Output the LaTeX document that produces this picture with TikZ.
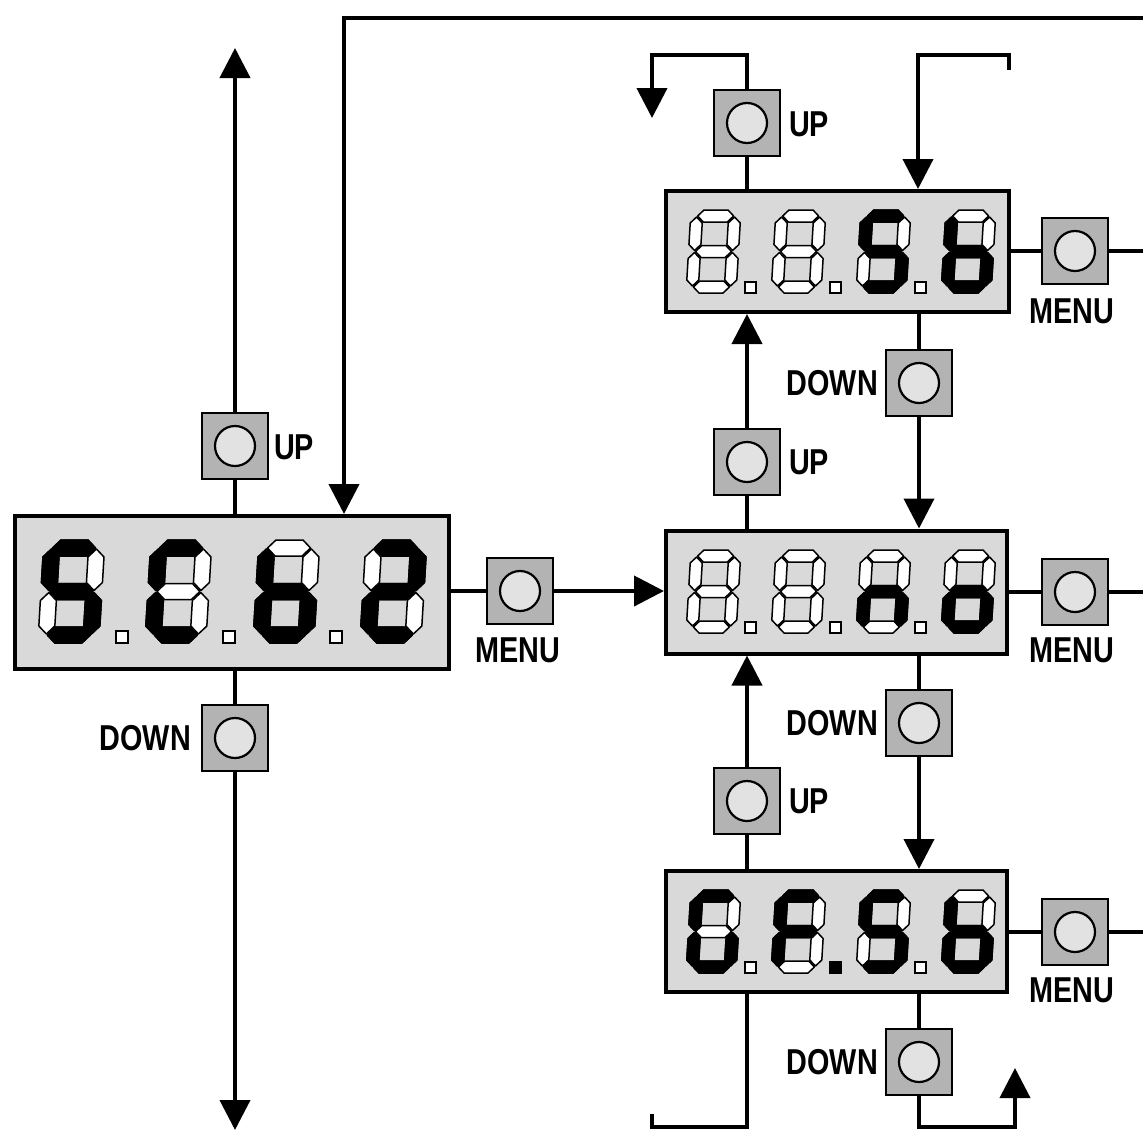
\documentclass[tikz,border=0pt]{standalone}
\usepackage{fontspec}
\newfontfamily\labfont{Liberation Sans}
\usetikzlibrary{arrows.meta,calc}
\definecolor{dispgray}{HTML}{D9D9D9}
\definecolor{btngray}{HTML}{B3B3B3}
\definecolor{circgray}{HTML}{E2E2E2}
\tikzset{
 conn/.style={line width=4pt},
 arr/.style={conn, -{Triangle[length=30pt,width=30pt]}},
 disp/.style={draw, fill=dispgray, line width=4pt, inner sep=0},
 btn/.style={draw, fill=btngray, line width=2.5pt, minimum width=66pt, minimum height=66pt, inner sep=0,
   path picture={\draw[fill=circgray, line width=2.2pt] (path picture bounding box.center) circle (20pt);}},
 lbl/.style={font=\labfont\bfseries\fontsize{36}{36}\selectfont, xscale=0.8, inner sep=0},
 segoff/.style={fill=white, draw=black, line width=1.5pt, line join=round},
 segon/.style={fill=black, draw=black, line width=1.5pt, line join=round},
 dpoff/.style={fill=white, draw=black, line width=1.2pt},
 dpon/.style={fill=black, draw=black, line width=1.2pt},
}
\newcommand\dG{1}
\newcommand\hseg[1]{({\dT/2+\dG},{#1}) -- ({\dT+\dG},{#1-\dT/2}) -- ({\dW-\dT-\dG},{#1-\dT/2}) -- ({\dW-\dT/2-\dG},{#1}) -- ({\dW-\dT-\dG},{#1+\dT/2}) -- ({\dT+\dG},{#1+\dT/2}) -- cycle}
\newcommand\vseg[3]{({#1},{#2+\dG}) -- ({#1+\dT/2},{#2+\dT/2+\dG}) -- ({#1+\dT/2},{#3-\dT/2-\dG}) -- ({#1},{#3-\dG}) -- ({#1-\dT/2},{#3-\dT/2-\dG}) -- ({#1-\dT/2},{#2+\dT/2+\dG}) -- cycle}
\expandafter\def\csname segpatha\endcsname{\hseg{\dT/2}}
\expandafter\def\csname segpathg\endcsname{\hseg{\dH/2}}
\expandafter\def\csname segpathd\endcsname{\hseg{\dH-\dT/2}}
\expandafter\def\csname segpathf\endcsname{\vseg{\dT/2}{\dT/2}{\dH/2}}
\expandafter\def\csname segpathb\endcsname{\vseg{\dW-\dT/2}{\dT/2}{\dH/2}}
\expandafter\def\csname segpathe\endcsname{\vseg{\dT/2}{\dH/2}{\dH-\dT/2}}
\expandafter\def\csname segpathc\endcsname{\vseg{\dW-\dT/2}{\dH/2}{\dH-\dT/2}}
\expandafter\def\csname segpathz\endcsname{(0,0)}
\newcommand\sevenseg[6]{%
 \begin{scope}[shift={(#1,#2)}, xslant=0.06]
 \def\dW{#3}\def\dH{#4}\def\dT{#5}%
 \foreach \s in {a,b,c,d,e,f,g} {\edef\tmpseg{\noexpand\path[segoff] \expandafter\noexpand\csname segpath\s\endcsname;}\tmpseg}
 \foreach \s in {#6} {\edef\tmpseg{\noexpand\path[segon] \expandafter\noexpand\csname segpath\s\endcsname;}\tmpseg}
 \end{scope}}
\begin{document}
\begin{tikzpicture}[x=1pt,y=-1pt]
\useasboundingbox (0,0) rectangle (1143,1130);
% displays
\node[disp, minimum width=434pt, minimum height=153pt] (d1) at (232,592.5) {};
\node[disp, minimum width=343pt, minimum height=121pt] (d2) at (837,251.5) {};
\node[disp, minimum width=341pt, minimum height=123pt] (d3) at (836.5,592) {};
\node[disp, minimum width=341pt, minimum height=121pt] (d4) at (836.5,931.5) {};
% digits of display 1
\sevenseg{44}{540}{61}{103}{16}{a,f,g,c,d}
\sevenseg{151}{540}{61}{103}{16}{a,f,e,d}
\sevenseg{259}{540}{61}{103}{16}{f,g,e,c,d}
\sevenseg{366}{540}{61}{103}{16}{a,b,g,e,d}
\path[dpoff] (116,631) rectangle ++(12,12);
\path[dpoff] (223,631) rectangle ++(12,12);
\path[dpoff] (330,631) rectangle ++(12,12);
% digits of display 2
\sevenseg{691}{210}{50}{83}{12}{z}
\sevenseg{776}{210}{50}{83}{12}{z}
\sevenseg{861}{210}{50}{83}{12}{a,f,g,c,d}
\sevenseg{946}{210}{50}{83}{12}{f,g,e,c,d}
\path[dpoff] (745,282) rectangle ++(11,11);
\path[dpoff] (830,282) rectangle ++(11,11);
\path[dpoff] (915,282) rectangle ++(11,11);
% digits of display 3
\sevenseg{691}{550}{50}{83}{12}{z}
\sevenseg{776}{550}{50}{83}{12}{z}
\sevenseg{861}{550}{50}{83}{12}{e,g,c}
\sevenseg{946}{550}{50}{83}{12}{g,e,c,d}
\path[dpoff] (745,622) rectangle ++(11,11);
\path[dpoff] (830,622) rectangle ++(11,11);
\path[dpoff] (915,622) rectangle ++(11,11);
% digits of display 4
\sevenseg{691}{890}{50}{83}{12}{a,f,e,d,c}
\sevenseg{776}{890}{50}{83}{12}{a,f,g,e}
\sevenseg{861}{890}{50}{83}{12}{a,f,g,c,d}
\sevenseg{946}{890}{50}{83}{12}{f,g,e,c,d}
\path[dpoff] (745,962) rectangle ++(11,11);
\path[dpon] (830,962) rectangle ++(11,11);
\path[dpoff] (915,962) rectangle ++(11,11);
% buttons
\node[btn] (bUL) at (235,446) {};
\node[btn] (bDL) at (235,738) {};
\node[btn] (bML) at (520,591) {};
\node[btn] (bU2) at (747,123) {};
\node[btn] (bU23) at (747,462) {};
\node[btn] (bD23) at (919,383) {};
\node[btn] (bU34) at (747,801) {};
\node[btn] (bD34) at (919,723) {};
\node[btn] (bD4) at (919,1062) {};
\node[btn] (bM2) at (1075,251) {};
\node[btn] (bM3) at (1075,592) {};
\node[btn] (bM4) at (1075,932) {};
% labels
\node[lbl, anchor=west] (lUL) at (274,447) {UP};
\node[lbl, anchor=east] (lDL) at (191,738) {DOWN};
\node[lbl] (lML) at (518,650) {MENU};
\node[lbl, anchor=west] (lU2) at (789,124) {UP};
\node[lbl, anchor=west] (lU23) at (789,462) {UP};
\node[lbl, anchor=east] (lD23) at (878,383) {DOWN};
\node[lbl, anchor=west] (lU34) at (789,801) {UP};
\node[lbl, anchor=east] (lD34) at (878,723) {DOWN};
\node[lbl, anchor=east] (lD4) at (878,1062) {DOWN};
\node[lbl] (lM2) at (1072,311) {MENU};
\node[lbl] (lM3) at (1072,650) {MENU};
\node[lbl] (lM4) at (1072,990) {MENU};
% free ends
\coordinate (topL) at (235,48);
\coordinate (botL) at (235,1130);
\coordinate (loopA) at (344,18);
\coordinate (loopB) at (1143,18);
\coordinate (tlA) at (747,55);
\coordinate (tlB) at (652,55);
\coordinate (tlC) at (652,118);
\coordinate (trA) at (1009,70);
\coordinate (trB) at (1009,55);
\coordinate (trC) at (918,55);
\coordinate (blA) at (747,1127);
\coordinate (blB) at (652,1127);
\coordinate (blC) at (652,1114);
\coordinate (brA) at (919,1127);
\coordinate (brB) at (1015,1127);
\coordinate (brC) at (1015,1068);
\coordinate (eM2) at (1143,251);
\coordinate (eM3) at (1143,592);
\coordinate (eM4) at (1143,932);
% connectors left
\draw[conn] (bUL.south) -- (bUL.south |- d1.north);
\draw[arr] (bUL.north) -- (topL);
\draw[conn] (bDL.north) -- (bDL.north |- d1.south);
\draw[arr] (bDL.south) -- (botL);
\draw[arr] (loopB) -- (loopA) -- (loopA |- d1.north);
\draw[conn] (d1.east |- bML) -- (bML.west);
\draw[arr] (bML.east) -- (bML.east -| d3.west);
% connectors right column
\draw[conn] (bU2.south) -- (bU2.south |- d2.north);
\draw[arr] (bU2.north) -- (tlA) -- (tlB) -- (tlC);
\draw[arr] (trA) -- (trB) -- (trC) -- (trC |- d2.north);
\draw[conn] (bU23.south) -- (bU23.south |- d3.north);
\draw[arr] (bU23.north) -- (bU23.north |- d2.south);
\draw[conn] (bD23.north) -- (bD23.north |- d2.south);
\draw[arr] (bD23.south) -- (bD23.south |- d3.north);
\draw[conn] (bU34.south) -- (bU34.south |- d4.north);
\draw[arr] (bU34.north) -- (bU34.north |- d3.south);
\draw[conn] (bD34.north) -- (bD34.north |- d3.south);
\draw[arr] (bD34.south) -- (bD34.south |- d4.north);
\draw[conn] (d4.south -| blA) -- (blA) -- (blB) -- (blC);
\draw[conn] (bD4.north) -- (bD4.north |- d4.south);
\draw[arr] (bD4.south) -- (brA) -- (brB) -- (brC);
% menu connectors right
\draw[conn] (bM2.west -| d2.east) -- (bM2.west);
\draw[conn] (bM2.east) -- (eM2);
\draw[conn] (bM3.west -| d3.east) -- (bM3.west);
\draw[conn] (bM3.east) -- (eM3);
\draw[conn] (bM4.west -| d4.east) -- (bM4.west);
\draw[conn] (bM4.east) -- (eM4);
\end{tikzpicture}
\end{document}
